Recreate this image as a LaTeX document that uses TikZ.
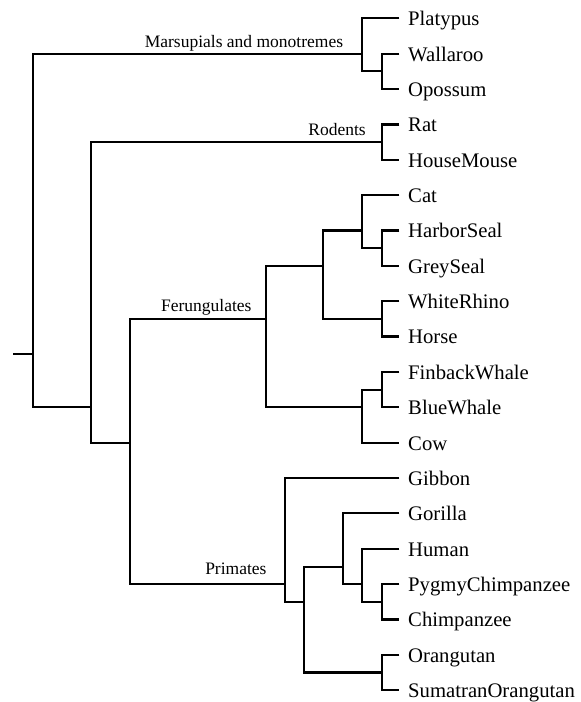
\documentclass[tikz,border=0pt]{standalone}
\usepackage{fontspec}
\setmainfont{Liberation Serif}
\begin{document}
\begin{tikzpicture}[x=1pt,y=-1pt,
  br/.style={line width=2.2pt, line join=miter},
  leaf/.style={anchor=base west, inner sep=0pt, font=\fontsize{20.7}{24}\selectfont},
  clade/.style={anchor=base east, inner sep=0pt, font=\fontsize{17.5}{20}\selectfont}]
\useasboundingbox (0,0) rectangle (581,702);
% leaf end points
\def\lx{399.3}
\foreach \n/\t/\y in {l0/Platypus/18.3, l1/Wallaroo/53.7, l2/Opossum/89.0, l3/Rat/124.4, l4/HouseMouse/159.7,
  l5/Cat/195.1, l6/HarborSeal/230.5, l7/GreySeal/265.8, l8/WhiteRhino/301.2, l9/Horse/336.5,
  l10/FinbackWhale/371.9, l11/BlueWhale/407.3, l12/Cow/442.6, l13/Gibbon/478.0, l14/Gorilla/513.3,
  l15/Human/548.7, l16/PygmyChimpanzee/584.1, l17/Chimpanzee/619.4, l18/Orangutan/654.8, l19/SumatranOrangutan/690.1}{
  \coordinate (\n) at (\lx,\y);
  \node[leaf] (t\n) at (408,\y+7.4) {\t};
}
% internal nodes
\coordinate (stub) at (13.3,354.2);
\coordinate (root) at (33.3,354.2);
\coordinate (n2) at (91.3,407.25);
\coordinate (n3) at (130,442.6);
\coordinate (mar) at (362.3,53.7);
\coordinate (wo) at (381.7,71.35);
\coordinate (rod) at (381.7,142.05);
\coordinate (fer) at (265.7,318.85);
\coordinate (na) at (323.3,265.8);
\coordinate (cat) at (362.3,230.5);
\coordinate (seal) at (381.7,248.15);
\coordinate (wrh) at (381.7,318.85);
\coordinate (wc) at (362.3,407.25);
\coordinate (wh) at (381.7,389.6);
\coordinate (pri) at (284.7,584.1);
\coordinate (ga) at (304.3,601.95);
\coordinate (afr) at (343.3,566.9);
\coordinate (hpc) at (362.3,584.1);
\coordinate (pc) at (381.7,601.75);
\coordinate (ora) at (381.7,672.45);
% branches
\draw[br] (stub) -- (root);
\draw[br] (mar) -| (root) |- (n2);
\draw[br] (rod) -| (n2) |- (n3);
\draw[br] (fer) -| (n3) |- (pri);
\draw[br] (l0) -| (mar) |- (wo);
\draw[br] (l1) -| (wo) |- (l2);
\draw[br] (l3) -| (rod) |- (l4);
\draw[br] (na) -| (fer) |- (wc);
\draw[br] (cat) -| (na) |- (wrh);
\draw[br] (l5) -| (cat) |- (seal);
\draw[br] (l6) -| (seal) |- (l7);
\draw[br] (l8) -| (wrh) |- (l9);
\draw[br] (wh) -| (wc) |- (l12);
\draw[br] (l10) -| (wh) |- (l11);
\draw[br] (l13) -| (pri) |- (ga);
\draw[br] (afr) -| (ga) |- (ora);
\draw[br] (l14) -| (afr) |- (hpc);
\draw[br] (l15) -| (hpc) |- (pc);
\draw[br] (l16) -| (pc) |- (l17);
\draw[br] (l18) -| (ora) |- (l19);
% clade labels
\node[clade] (cmar) at (343.3,47.3) {Marsupials and monotremes};
\node[clade] (crod) at (366,135) {Rodents};
\node[clade] (cfer) at (251.7,311) {Ferungulates};
\node[clade] (cpri) at (266.7,574) {Primates};
\end{tikzpicture}
\end{document}
